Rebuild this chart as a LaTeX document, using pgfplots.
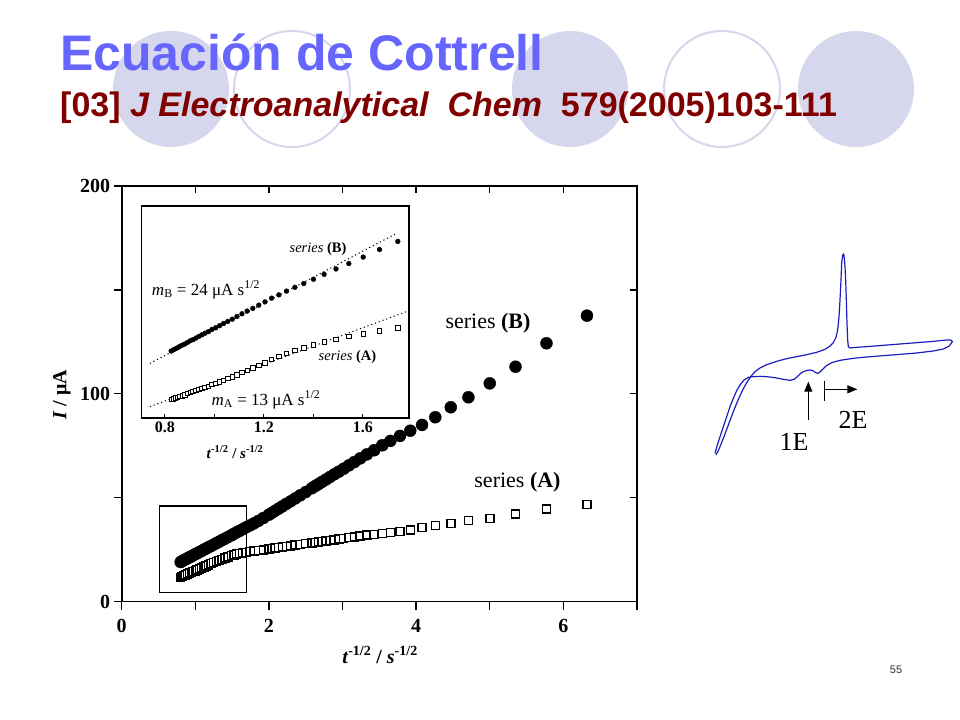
\documentclass[border=0pt]{standalone}
\usepackage{fontspec}
\setmainfont{Liberation Serif}
\newfontfamily\arialfont{Liberation Sans}
\usepackage{pgfplots}
\usepackage{pgfplotstable}
\pgfplotsset{compat=1.18}
\usetikzlibrary{arrows.meta}
\definecolor{titleblue}{RGB}{102,102,255}
\definecolor{subred}{RGB}{128,0,0}
\definecolor{lav}{RGB}{214,214,236}
\definecolor{cvblue}{RGB}{30,30,190}

\pgfplotstableread{
x y
0.801 19.0
0.822 19.4
0.845 19.9
0.870 20.3
0.894 20.8
0.921 21.3
0.945 21.7
0.971 22.2
1.000 22.8
1.026 23.2
1.054 23.8
1.085 24.3
1.118 25.0
1.147 25.5
1.179 26.1
1.213 26.7
1.250 27.4
1.291 28.2
1.325 28.8
1.361 29.5
1.400 30.2
1.443 31.0
1.491 31.9
1.525 32.6
1.562 33.3
1.601 34.0
1.644 34.8
1.690 35.7
1.741 36.6
1.796 37.6
1.857 38.8
1.925 40.2
2.000 41.8
2.041 42.7
2.085 43.7
2.132 44.7
2.182 45.8
2.236 47.0
2.294 48.2
2.357 49.6
2.425 51.1
2.500 52.7
2.582 54.5
2.626 55.5
2.673 56.5
2.722 57.6
2.774 58.7
2.828 59.9
2.887 61.2
2.949 62.5
3.015 63.9
3.086 65.5
3.160 67.1
3.240 68.9
3.330 70.8
3.430 72.8
3.540 75.2
3.650 77.3
3.780 79.7
3.920 82.2
4.080 85.0
4.260 88.7
4.470 93.5
4.710 98.3
5.000 105.0
5.350 113.0
5.770 124.3
6.320 137.6
}\seriesB

\pgfplotstableread{
x y
0.801 11.6
0.822 12.0
0.845 12.4
0.870 12.8
0.894 13.2
0.921 13.6
0.945 14.0
0.971 14.4
1.000 14.8
1.026 15.2
1.054 15.6
1.085 16.1
1.118 16.6
1.147 17.1
1.179 17.6
1.213 18.2
1.250 18.7
1.291 19.3
1.325 19.8
1.361 20.3
1.400 20.9
1.443 21.5
1.491 22.1
1.525 22.5
1.562 22.8
1.601 23.1
1.644 23.4
1.690 23.7
1.741 24.0
1.796 24.3
1.857 24.6
1.925 24.9
2.000 25.3
2.041 25.5
2.085 25.7
2.132 26.0
2.182 26.2
2.236 26.5
2.294 26.8
2.357 27.1
2.425 27.4
2.500 27.8
2.582 28.2
2.626 28.4
2.673 28.7
2.722 28.9
2.774 29.2
2.828 29.4
2.887 29.7
2.949 30.0
3.015 30.4
3.086 30.7
3.160 31.1
3.240 31.5
3.330 31.9
3.430 32.2
3.540 32.7
3.650 33.1
3.780 33.6
3.920 34.4
4.080 35.5
4.260 36.5
4.470 37.6
4.710 38.9
5.000 40.0
5.350 42.1
5.770 44.5
6.320 46.8
}\seriesA

\pgfplotstableread{
x y
0.825 20.1
0.833 20.3
0.842 20.5
0.851 20.7
0.861 21.0
0.870 21.2
0.880 21.4
0.891 21.7
0.902 22.0
0.913 22.2
0.925 22.5
0.937 22.8
0.949 23.1
0.962 23.4
0.976 23.7
0.990 24.1
1.005 24.4
1.021 24.8
1.037 25.2
1.054 25.6
1.072 26.0
1.091 26.5
1.111 27.0
1.132 27.5
1.155 28.0
1.179 28.6
1.204 29.2
1.231 29.9
1.260 30.5
1.291 31.2
1.325 31.9
1.361 32.6
1.400 33.4
1.443 34.3
1.491 35.3
1.543 36.3
1.601 37.5
1.667 38.9
1.741 40.4
}\insetB

\pgfplotstableread{
x y
0.825 11.1
0.833 11.2
0.842 11.4
0.851 11.5
0.861 11.7
0.870 11.8
0.880 12.0
0.891 12.2
0.902 12.4
0.913 12.6
0.925 12.8
0.937 13.0
0.949 13.2
0.962 13.4
0.976 13.6
0.990 13.9
1.005 14.1
1.021 14.4
1.037 14.7
1.054 15.0
1.072 15.3
1.091 15.7
1.111 16.1
1.132 16.5
1.155 17.0
1.179 17.4
1.204 17.9
1.231 18.5
1.260 19.1
1.291 19.7
1.325 20.2
1.361 20.7
1.400 21.2
1.443 21.8
1.491 22.3
1.543 22.8
1.601 23.3
1.667 23.8
1.741 24.4
}\insetA

\begin{document}
\begin{tikzpicture}
\useasboundingbox (0,0) rectangle (960bp,720bp);
\fill[white] (0,0) rectangle (960bp,720bp);
% background circles
\fill[lav] (171bp,631bp) circle (58bp);
\draw[lav, line width=2bp] (292bp,631bp) circle (58bp);
\fill[lav] (570bp,631bp) circle (58bp);
\draw[lav, line width=2bp] (722bp,631bp) circle (58bp);
\fill[lav] (856bp,631bp) circle (58bp);
% titles
\node[anchor=base west, inner sep=0, text=titleblue, font=\arialfont\bfseries\fontsize{50bp}{56bp}\selectfont] at (60bp,649bp) {Ecuación de Cottrell};
\node[anchor=base west, inner sep=0, text=subred, font=\arialfont\bfseries\fontsize{34bp}{40bp}\selectfont] at (60bp,603bp) {[03] \textit{J Electroanalytical\ \ Chem}\ \ 579(2005)103-111};
\node[font=\arialfont\fontsize{11bp}{12bp}\selectfont, text=black!80] at (896bp,50bp) {55};

% main axis
\begin{axis}[at={(121.7bp,118.5bp)}, anchor=south west, scale only axis,
  width=515.3bp, height=415.5bp,
  xmin=0, xmax=7, ymin=0, ymax=200,
  axis line style={line width=1.6bp},
  xtick={0,1,...,7}, xticklabels={0,,2,,4,,6,},
  ytick={0,50,...,200}, yticklabels={0,,100,,200},
  tick align=outside, xtick pos=left, ytick pos=left,
  major tick length=8bp, tick style={line width=1.4bp, black},
  ticklabel style={font=\bfseries\fontsize{20bp}{20bp}\selectfont},
  xticklabel style={yshift=-6bp},
  /pgf/number format/assume math mode=true,
  clip=false]
\addplot[only marks, mark=square*, mark size=4bp, mark options={fill=white, draw=black, line width=1.5bp}] table[x=x,y=y] {\seriesA};
\addplot[only marks, mark=*, mark size=6bp, mark options={fill=black, draw=black}] table[x=x,y=y] {\seriesB};
\draw[line width=1.3bp] (axis cs:0.51,4.2) rectangle (axis cs:1.70,46);
\end{axis}
% mirrored inward ticks
\begin{axis}[at={(121.7bp,118.5bp)}, anchor=south west, scale only axis,
  width=515.3bp, height=415.5bp,
  xmin=0, xmax=7, ymin=0, ymax=200,
  axis line style={line width=1.6bp},
  xtick={0,1,...,7}, xticklabels={}, ytick={0,50,...,200}, yticklabels={},
  tick align=inside, xtick pos=right, ytick pos=right,
  major tick length=7bp, tick style={line width=1.4bp, black}]
\end{axis}

% inset axis
\begin{axis}[at={(141.7bp,302bp)}, anchor=south west, scale only axis,
  width=267.3bp, height=212bp,
  xmin=0.706, xmax=1.786, ymin=7.7, ymax=46.96,
  axis background/.style={fill=white},
  axis line style={line width=1.2bp},
  xtick={0.8,1.0,1.2,1.4,1.6}, xticklabels={0.8,,1.2,,1.6},
  ytick=\empty, xtick pos=left, tick align=inside,
  major tick length=4bp, tick style={line width=1bp, black},
  xticklabel style={font=\bfseries\fontsize{16bp}{16bp}\selectfont},
  clip=false]
\addplot[black, line width=1bp, dash pattern=on 1.2bp off 2.8bp] coordinates {(0.739,17.8) (1.736,41.9)};
\addplot[black, line width=1bp, dash pattern=on 1.2bp off 2.8bp] coordinates {(0.739,9.8) (1.776,27.4)};
\addplot[only marks, mark=square*, mark size=2.2bp, mark options={fill=white, draw=black, line width=0.8bp}] table[x=x,y=y] {\insetA};
\addplot[only marks, mark=*, mark size=2.4bp, mark options={fill=black, draw=black}] table[x=x,y=y] {\insetB};
\end{axis}

% CV sketch
\begin{axis}[at={(700bp,250bp)}, anchor=south west, scale only axis,
  width=260bp, height=230bp, xmin=0, xmax=780, ymin=0, ymax=690,
  y dir=reverse, axis lines=none, clip=false]
\addplot[cvblue, line width=1.2bp] coordinates {
(45,640) (52,615) (60,590) (70,560) (80,530) (90,500) (100,475) (110,452) (120,435) (132,420) (145,412) (160,410) (180,409) (200,410) (225,413) (250,418) (270,421) (282,418) (292,410) (302,400) (312,394) (322,391) (332,390) (340,393) (347,398) (353,400) (360,396) (368,388) (378,378) (395,368) (420,361) (460,355) (500,351) (550,347) (600,343) (650,339) (700,333) (730,327) (748,318) (757,305) (752,300) (740,300) (700,304) (650,308) (600,312) (550,316) (500,320) (470,322) (450,324) (445,320) (443,300) (441,250) (439,180) (437,120) (435,80) (433,55) (431,42) (428,45) (425,70) (423,120) (420,180) (417,230) (413,270) (408,292) (400,308) (390,318) (375,328) (350,337) (320,344) (290,350) (260,356) (230,364) (200,374) (180,384) (165,395) (152,410) (140,428) (128,450) (115,478) (100,515) (85,555) (70,595) (55,632) (48,645)
};
\draw[line width=1bp, -{Triangle[length=10bp,width=8bp]}] (axis cs:325,540) -- (axis cs:325,425);
\draw[line width=1bp] (axis cs:372,422) -- (axis cs:372,482);
\draw[line width=1bp, -{Triangle[length=10bp,width=8bp]}] (axis cs:372,448) -- (axis cs:472,448);
\end{axis}

% labels
\node[font=\bfseries\fontsize{20bp}{20bp}\selectfont] at (380bp,65bp) {\textit{t}\textsuperscript{-1/2} / \textit{s}\textsuperscript{-1/2}};
\node[rotate=90, font=\bfseries\fontsize{20bp}{20bp}\selectfont] at (62bp,325bp) {\textit{I} / μA};
\node[font=\fontsize{22bp}{22bp}\selectfont] at (488bp,397bp) {series \textbf{(B)}};
\node[font=\fontsize{22bp}{22bp}\selectfont] at (517.5bp,238bp) {series \textbf{(A)}};
% inset labels
\node[font=\bfseries\fontsize{15bp}{15bp}\selectfont] at (235bp,268bp) {\textit{t}\textsuperscript{-1/2} / \textit{s}\textsuperscript{-1/2}};
\node[font=\fontsize{14.5bp}{14.5bp}\selectfont] at (318bp,471bp) {\textit{series} \textbf{(B)}};
\node[font=\fontsize{14.5bp}{14.5bp}\selectfont] at (347.5bp,363bp) {\textit{series} \textbf{(A)}};
\node[font=\fontsize{17bp}{17bp}\selectfont] at (206bp,430bp) {\textit{m}\textsubscript{B} = 24 μA s\textsuperscript{1/2}};
\node[font=\fontsize{17bp}{17bp}\selectfont] at (266bp,320bp) {\textit{m}\textsubscript{A} = 13 μA s\textsuperscript{1/2}};
% CV labels
\node[font=\fontsize{26bp}{26bp}\selectfont] at (794bp,278bp) {1E};
\node[font=\fontsize{26bp}{26bp}\selectfont] at (853bp,300bp) {2E};
\end{tikzpicture}
\end{document}
